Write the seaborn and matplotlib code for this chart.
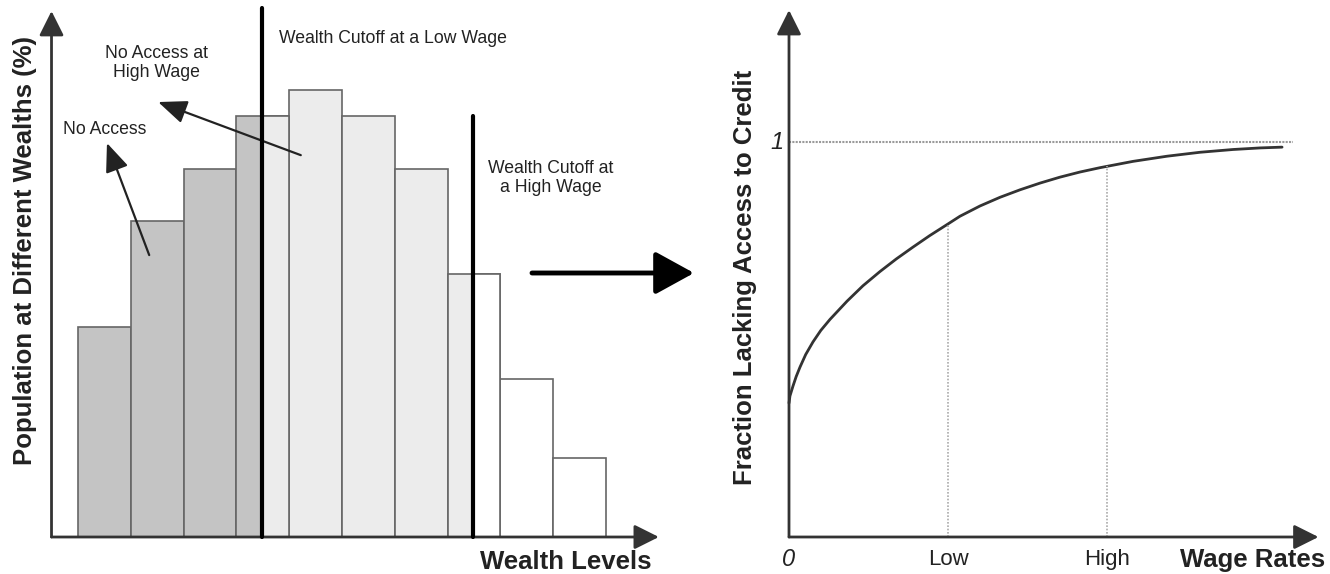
import numpy as np
import matplotlib
matplotlib.use("Agg")
import matplotlib.pyplot as plt
import seaborn as sns

# left panel: population share at each wealth level
wealth_levels = ["W1", "W2", "W3", "W4", "W5", "W6", "W7", "W8", "W9", "W10"]
population = [8, 12, 14, 16, 17, 16, 14, 10, 6, 3]
access_group = ["none", "none", "none", "none", "high", "high", "high", "high", "all", "all"]
low_cutoff = 2.98     # wealth cutoff at a low wage (bar index units)
high_cutoff = 6.98    # wealth cutoff at a high wage

# right panel: fraction lacking access to credit vs wage rate
wage = [0.0, 0.006, 0.025, 0.045, 0.069, 0.105, 0.151, 0.200, 0.258, 0.365, 0.465,
        0.572, 0.675, 0.780, 0.885, 0.994, 1.075, 1.201, 1.327, 1.453, 1.579,
        1.704, 1.830, 1.956, 2.164, 2.377, 2.585, 2.792, 2.962, 3.101]
fraction = [0.339, 0.357, 0.382, 0.406, 0.430, 0.462, 0.494, 0.523, 0.551, 0.597, 0.636,
            0.672, 0.704, 0.734, 0.763, 0.791, 0.812, 0.838, 0.860, 0.879, 0.896,
            0.911, 0.924, 0.935, 0.951, 0.964, 0.974, 0.981, 0.985, 0.987]
wage_ticks = [1.0, 2.0]
wage_tick_labels = ["Low", "High"]

sns.set_theme(style="white")
plt.rcParams["font.family"] = ["Liberation Sans", "DejaVu Sans"]

group_colors = {"none": "#c4c4c4", "high": "#ececec", "all": "#ffffff"}
edge = "#666666"
axis_col = "#333333"
txt = "#222222"

W, H = 1330, 574
fig = plt.figure(figsize=(W / 100, H / 100), dpi=100)

# left axes spans px x 41..671, y 0..545
ax1 = fig.add_axes([41 / W, (H - 545) / H, 630 / W, 545 / H])
palette = {lvl: group_colors[g] for lvl, g in zip(wealth_levels, access_group)}
sns.barplot(x=wealth_levels, y=population, hue=wealth_levels, palette=palette,
            width=1.0, saturation=1, edgecolor=edge, linewidth=1.2,
            legend=False, ax=ax1)

# split bars at the cutoffs
ax1.bar(low_cutoff, population[3], width=3.5 - low_cutoff, align="edge",
        color=group_colors["high"], edgecolor=edge, linewidth=1.2)
ax1.bar(high_cutoff, population[7], width=7.5 - high_cutoff, align="edge",
        color=group_colors["all"], edgecolor=edge, linewidth=1.2)

ax1.plot([low_cutoff, low_cutoff], [0, 20.1], color="black", lw=3, zorder=5)
ax1.plot([high_cutoff, high_cutoff], [0, population[3]], color="black", lw=3, zorder=5)

ax1.set_xlim(-1.199, 10.73)
ax1.set_ylim(-0.304, 20.42)
ax1.axis("off")

axis_arrow = dict(arrowstyle="-|>,head_length=1.0,head_width=0.5", mutation_scale=15,
                  lw=2, color=axis_col, shrinkA=0, shrinkB=0)
ax1.annotate("", xy=(-1.0, 20.0), xytext=(-1.0, 0), arrowprops=axis_arrow)
ax1.annotate("", xy=(10.5, 0), xytext=(-1.0, 0), arrowprops=axis_arrow)

ax1.text(3.31, 18.94, "Wealth Cutoff at a Low Wage", fontsize=12.7, ha="left",
         va="center", color=txt)
ax1.text(0.98, 18.02, "No Access at\nHigh Wage", fontsize=12.7, ha="center",
         va="center", linespacing=1.15, color=txt)
ax1.text(0.01, 15.51, "No Access", fontsize=12.7, ha="center", va="center", color=txt)
ax1.text(8.46, 13.65, "Wealth Cutoff at\na High Wage", fontsize=12.7, ha="center",
         va="center", linespacing=1.2, color=txt)

note_arrow = dict(arrowstyle="-|>,head_length=1.1,head_width=0.45", mutation_scale=16,
                  lw=1.6, color=txt, shrinkA=0, shrinkB=0)
ax1.annotate("", xy=(0.05, 14.98), xytext=(0.85, 10.72), arrowprops=note_arrow)
ax1.annotate("", xy=(1.02, 16.54), xytext=(3.72, 14.52), arrowprops=note_arrow)

ax1.text(10.37, -0.95, "Wealth Levels", fontsize=18.5, fontweight="bold", ha="right",
         va="center", color=txt, clip_on=False)
ax1.text(-1.5, 10.9, "Population at Different Wealths (%)", fontsize=18.5,
         fontweight="bold", rotation=90, ha="center", va="center", color=txt,
         clip_on=False)

# right axes spans px x 770..1325, y 0..545
ax2 = fig.add_axes([770 / W, (H - 545) / H, 555 / W, 545 / H])
sns.lineplot(x=wage, y=fraction, color="#333333", lw=2, ax=ax2, sort=False)
ax2.plot([0, 3.17], [1, 1], color="#9a9a9a", lw=1.5, ls=(0, (1, 0.6)))
for t in wage_ticks:
    top = np.interp(t, wage, fraction)
    ax2.plot([t, t], [0, top], color="#aaaaaa", lw=1.2, ls=(0, (1, 1)))

ax2.set_xlim(-0.1195, 3.371)
ax2.set_ylim(-0.02025, 1.3595)
ax2.axis("off")
ax2.annotate("", xy=(0, 1.334), xytext=(0, 0), arrowprops=axis_arrow)
ax2.annotate("", xy=(3.33, 0), xytext=(0, 0), arrowprops=axis_arrow)

ax2.text(-0.035, 1.0, "1", fontsize=17, style="italic", ha="right", va="center",
         color=txt)
ax2.text(0.0, -0.058, "0", fontsize=17, style="italic", ha="center", va="center",
         color=txt, clip_on=False)
for t, lab in zip(wage_ticks, wage_tick_labels):
    ax2.text(t, -0.058, lab, fontsize=16, ha="center", va="center", color=txt,
             clip_on=False)
ax2.text(3.37, -0.058, "Wage Rates", fontsize=18.5, fontweight="bold", ha="right",
         va="center", color=txt, clip_on=False)
ax2.text(-0.277, 0.658, "Fraction Lacking Access to Credit", fontsize=18.5,
         fontweight="bold", rotation=90, ha="center", va="center", color=txt,
         clip_on=False)

# big arrow between the panels
fig.patches.append(matplotlib.patches.FancyArrowPatch(
    (532, H - 273), (694, H - 273), transform=None,
    arrowstyle="-|>,head_length=1.0,head_width=0.55", mutation_scale=24,
    lw=3.5, color="black", shrinkA=0, shrinkB=0))

fig.savefig("out.png", dpi=100)
